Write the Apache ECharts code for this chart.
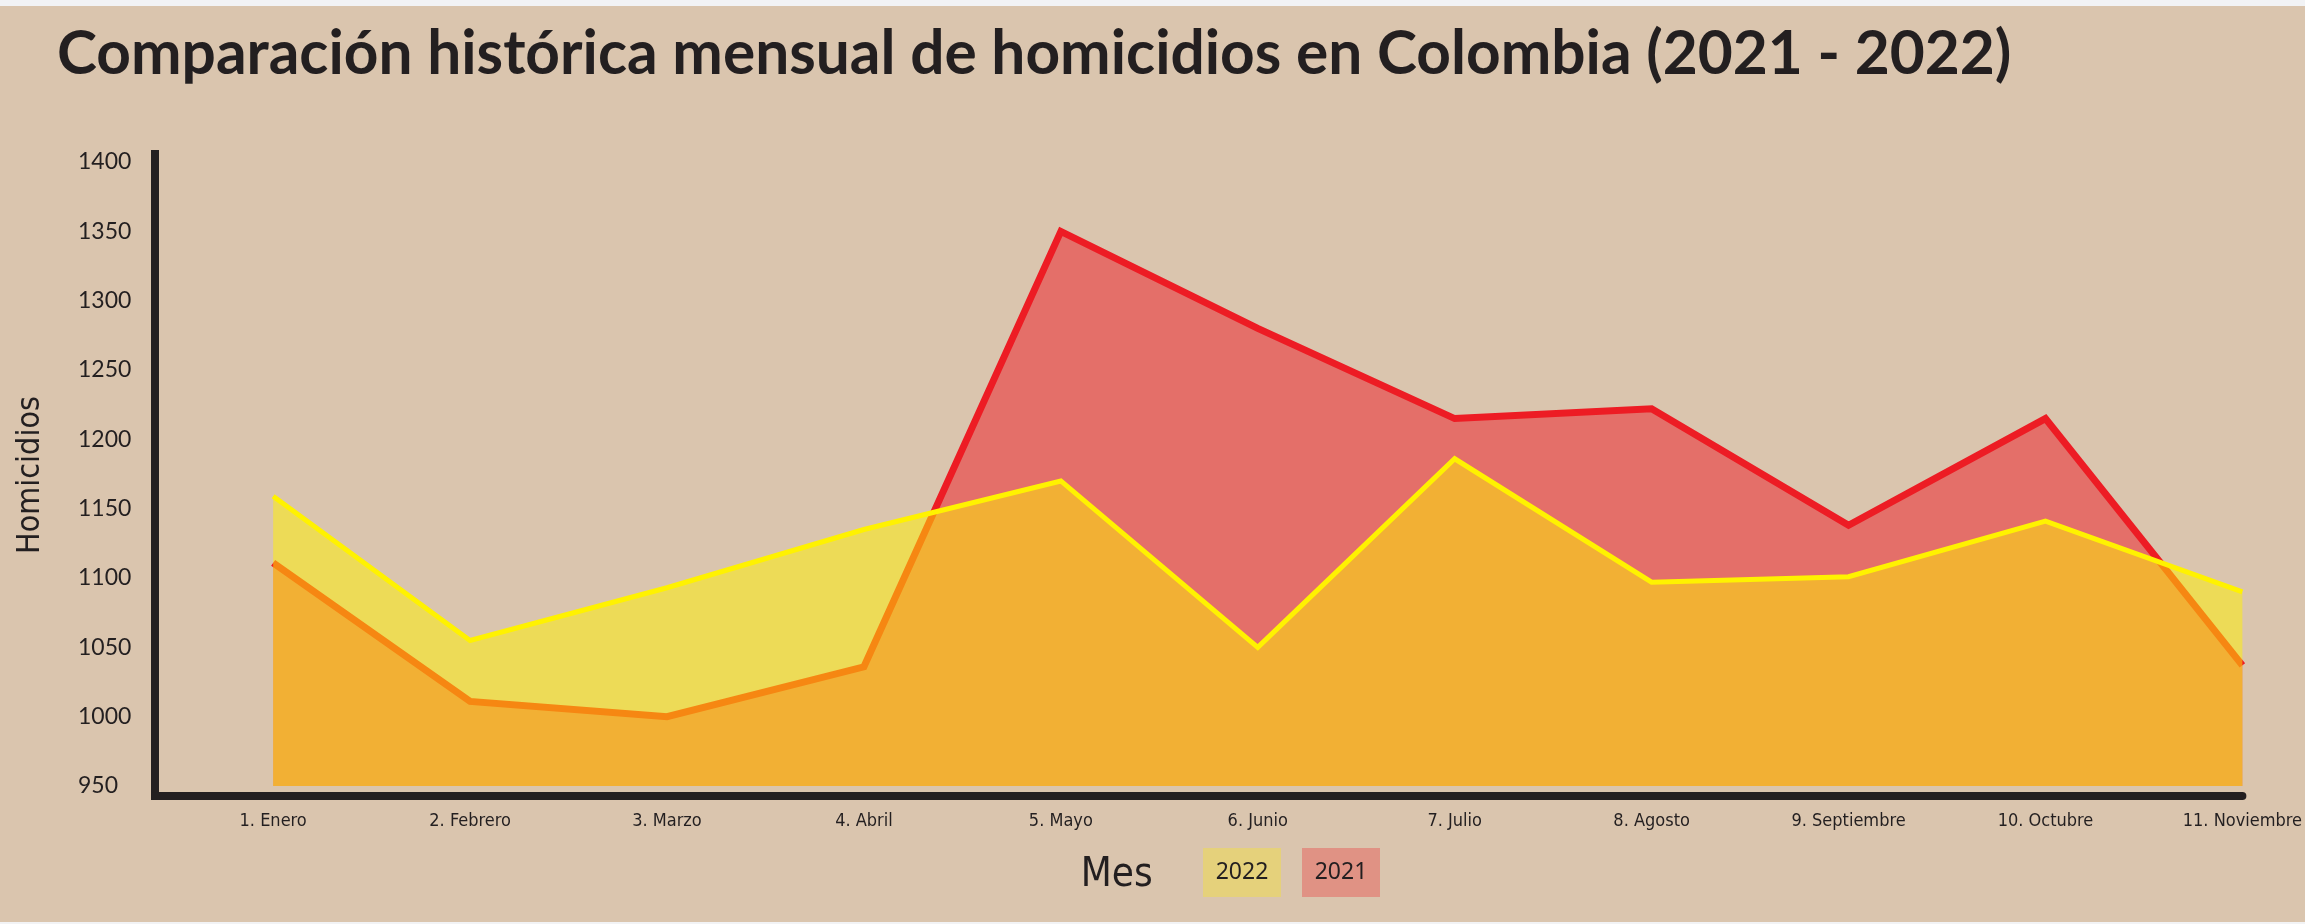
<!DOCTYPE html>
<html>
<head>
<meta charset="utf-8">
<script src="https://cdn.jsdelivr.net/npm/echarts@6/dist/echarts.min.js"></script>
<style>
  html, body { margin: 0; padding: 0; }
  #chart {
    width: 2305px; height: 924px;
    background: linear-gradient(#F2F3F5 0 6px, #DAC5AE 6px 922px, #F2F3F5 922px);
  }
</style>
</head>
<body>
<div id="chart"></div>
<script>
// months on the x axis
const months = ['1. Enero', '2. Febrero', '3. Marzo', '4. Abril', '5. Mayo', '6. Junio',
  '7. Julio', '8. Agosto', '9. Septiembre', '10. Octubre', '11. Noviembre'];
// homicidios por mes
const values2022 = [1159, 1055, 1093, 1135, 1170, 1050, 1186, 1097, 1101, 1141, 1090];
const values2021 = [1111, 1011, 1000, 1036, 1350, 1280, 1215, 1222, 1138, 1215, 1037];
const yTicks = [950, 1000, 1050, 1100, 1150, 1200, 1250, 1300, 1350, 1400];

const dark = '#231F20';
const narrow = "'DejaVu Sans Condensed', 'Liberation Sans Narrow', Roboto, sans-serif";
const toPairs = (arr) => arr.map((v, i) => [i, v]);

const myChart = echarts.init(document.getElementById('chart'));

const option = {
  backgroundColor: 'transparent',
  animation: false,
  title: {
    text: 'Comparación histórica mensual de homicidios en Colombia (2021 - 2022)',
    left: 52,
    top: 20,
    textStyle: { fontFamily: 'Lato', fontWeight: 'bold', fontSize: 60.4, color: dark }
  },
  legend: {
    data: ['2022', '2021'],
    left: 1192,
    top: 843,
    itemWidth: 0,
    itemHeight: 0,
    itemGap: 15,
    selectedMode: false,
    formatter: (name) => (name === '2022' ? '{y|' : '{r|') + name + '}',
    textStyle: {
      rich: {
        y: { backgroundColor: '#E5D17B', width: 78, height: 49, lineHeight: 49, align: 'center',
             fontFamily: 'Noto Sans', fontSize: 23, color: dark },
        r: { backgroundColor: '#E09284', width: 78, height: 49, lineHeight: 49, align: 'center',
             fontFamily: 'Noto Sans', fontSize: 23, color: dark }
      }
    }
  },
  grid: { left: 155, right: 62, top: 154, bottom: 128 },
  xAxis: {
    type: 'value',
    min: -0.6,
    max: 10,
    name: 'Mes',
    nameLocation: 'middle',
    nameGap: 60,
    nameTextStyle: { fontFamily: narrow, fontSize: 40, color: dark, padding: [0, 164, 0, 0] },
    axisLine: { onZero: false, lineStyle: { color: dark, width: 8 } },
    axisTick: { show: false },
    splitLine: { show: false },
    axisLabel: {
      customValues: months.map((m, i) => i),
      formatter: (v) => months[v],
      margin: 16,
      fontFamily: narrow,
      fontSize: 18,
      color: dark
    }
  },
  yAxis: {
    type: 'value',
    min: 942.8,
    max: 1405.8,
    name: 'Homicidios',
    nameLocation: 'middle',
    nameRotate: 90,
    nameGap: 108,
    nameTextStyle: { fontFamily: narrow, fontSize: 32, color: dark },
    axisLine: { show: true, onZero: false, lineStyle: { color: dark, width: 8, cap: 'square' } },
    axisTick: { show: false },
    splitLine: { show: false },
    axisLabel: {
      customValues: yTicks,
      formatter: (v) => String(v),
      align: 'left',
      margin: 77,
      fontFamily: 'Lato',
      fontSize: 23,
      color: dark
    }
  },
  series: [
    {
      name: '2021',
      type: 'line',
      data: toPairs(values2021),
      symbol: 'none',
      color: '#E09284',
      lineStyle: { color: '#ED1C24', width: 7, join: 'miter' },
      areaStyle: { color: '#E46F69', opacity: 1, origin: 950 },
      z: 2
    },
    {
      name: '2022',
      type: 'line',
      data: toPairs(values2022),
      symbol: 'none',
      color: '#E5D17B',
      lineStyle: { color: '#FFF200', width: 5, join: 'miter' },
      areaStyle: { color: 'rgba(255,242,0,0.5)', opacity: 1, origin: 950 },
      z: 3
    }
  ]
};

myChart.setOption(option);
</script>
</body>
</html>
